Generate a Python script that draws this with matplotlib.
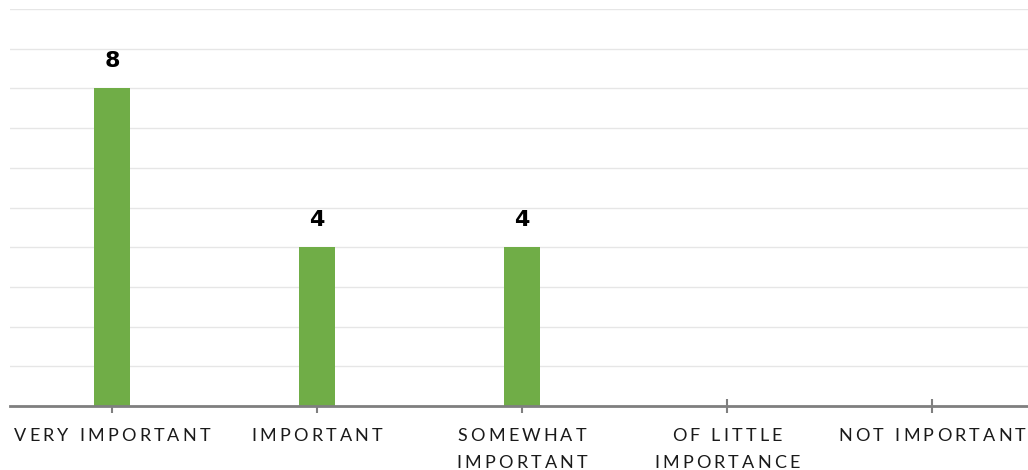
import matplotlib
matplotlib.use("Agg")
import matplotlib.pyplot as plt
from matplotlib.font_manager import FontProperties

categories = ["VERY IMPORTANT", "IMPORTANT", "SOMEWHAT\nIMPORTANT", "OF LITTLE\nIMPORTANCE", "NOT IMPORTANT"]
values = [8, 4, 4, 0, 0]

W, H = 1028, 470
fig = plt.figure(figsize=(W / 100, H / 100), dpi=100)
ax = fig.add_axes([9.5 / W, (H - 406) / H, (W - 9.5) / W, (406 - 9) / H])

x = list(range(len(categories)))
ax.bar(x, values, width=0.18, color="#70ad47", zorder=3)
ax.set_xlim(-0.5, 4.5 - 6.5 / 205)
ax.set_ylim(0, 10)
ax.set_yticks(range(0, 11))
ax.yaxis.grid(True, color="#e6e6e6", linewidth=1)
ax.tick_params(axis="y", length=0, labelleft=False)
ax.set_xticks(x)
ax.tick_params(axis="x", length=10, width=1.5, color="#7f7f7f", direction="inout", labelbottom=False)
for s in ["top", "right", "left"]:
    ax.spines[s].set_visible(False)
ax.spines["bottom"].set_color("#7f7f7f")
ax.spines["bottom"].set_linewidth(2)
ax.spines["bottom"].set_zorder(4)

for xi, v in zip(x, values):
    if v > 0:
        ax.annotate(str(v), (xi, v), xytext=(0, 17), textcoords="offset pixels",
                    ha="center", va="bottom", fontsize=16, fontweight="bold",
                    family="DejaVu Sans", color="#000000")

# category labels with letter spacing, drawn char by char
prop = FontProperties(family="Lato", size=13)
renderer = fig.canvas.get_renderer()
spacing = 3.2


def char_w(ch):
    if ch == " ":
        a = renderer.get_text_width_height_descent("a a", prop, ismath=False)[0]
        b = renderer.get_text_width_height_descent("aa", prop, ismath=False)[0]
        return a - b
    return renderer.get_text_width_height_descent(ch, prop, ismath=False)[0]


for xi, label in zip(x, categories):
    cx = ax.transData.transform((xi, 0))[0]
    for li, line in enumerate(label.split("\n")):
        widths = [char_w(c) for c in line]
        total = sum(widths) + spacing * (len(line) - 1)
        px = cx - total / 2
        base = H - 441 - li * 27
        for c, w in zip(line, widths):
            fig.text(px / W, base / H, c, fontproperties=prop, color="#1a1a1a",
                     ha="left", va="baseline")
            px += w + spacing

fig.savefig("out.png", dpi=100)
